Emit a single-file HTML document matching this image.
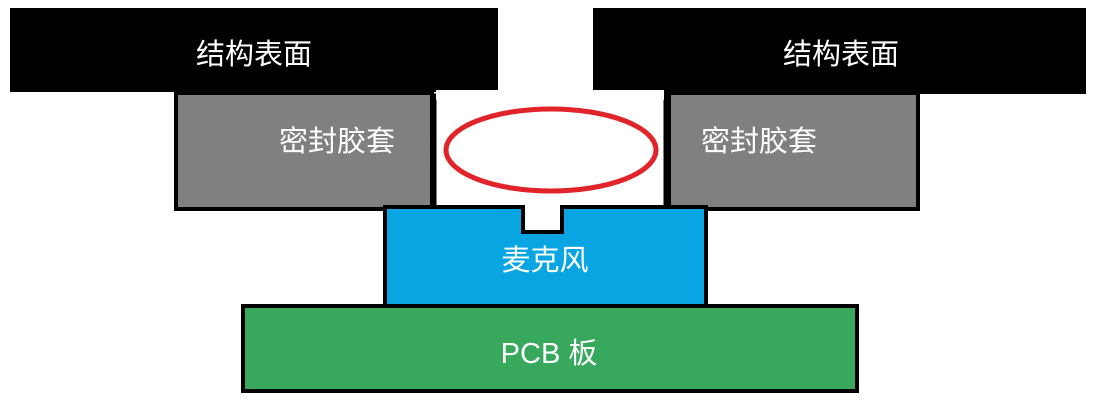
<!DOCTYPE html>
<html><head><meta charset="utf-8"><style>
html,body{margin:0;padding:0;background:#fff;width:1097px;height:418px;overflow:hidden}
text{font-family:"Liberation Sans","Noto Sans CJK SC",sans-serif;fill:#fff;font-size:29px}
</style></head><body>
<svg width="1097" height="418" xmlns="http://www.w3.org/2000/svg">
<rect x="0" y="0" width="1097" height="418" fill="#fff"/>
<!-- black structure surfaces -->
<rect x="10" y="8" width="488" height="84" fill="#000"/>
<rect x="593" y="8" width="493" height="86" fill="#000"/>
<!-- gray sealing sleeves -->
<rect x="176" y="93" width="256" height="116" fill="#808080" stroke="#000" stroke-width="4"/>
<rect x="669" y="93" width="249" height="116" fill="#808080" stroke="#000" stroke-width="4"/>
<!-- gap borders -->
<rect x="434" y="96" width="232" height="112" fill="#fff" stroke="#000" stroke-width="5"/>
<rect x="436" y="90" width="228" height="10" fill="#fff"/>
<!-- microphone -->
<rect x="385" y="207" width="321" height="100" fill="#08a5e2" stroke="#000" stroke-width="4"/>
<path d="M523 207 V232 H562 V207" fill="#fff" stroke="#000" stroke-width="4"/>
<rect x="525" y="200" width="35" height="10" fill="#fff"/>
<!-- PCB -->
<rect x="243" y="306" width="614" height="85" fill="#38a85c" stroke="#000" stroke-width="4"/>
<!-- red ellipse -->
<ellipse cx="551" cy="150" rx="105" ry="41" fill="none" stroke="#e0242a" stroke-width="5"/>
<text x="254" y="64" text-anchor="middle">结构表面</text>
<text x="841" y="64" text-anchor="middle">结构表面</text>
<text x="337" y="151" text-anchor="middle">密封胶套</text>
<text x="759" y="151" text-anchor="middle">密封胶套</text>
<text x="545" y="270" text-anchor="middle">麦克风</text>
<text x="549" y="363" text-anchor="middle">PCB 板</text>
</svg>
</body></html>
